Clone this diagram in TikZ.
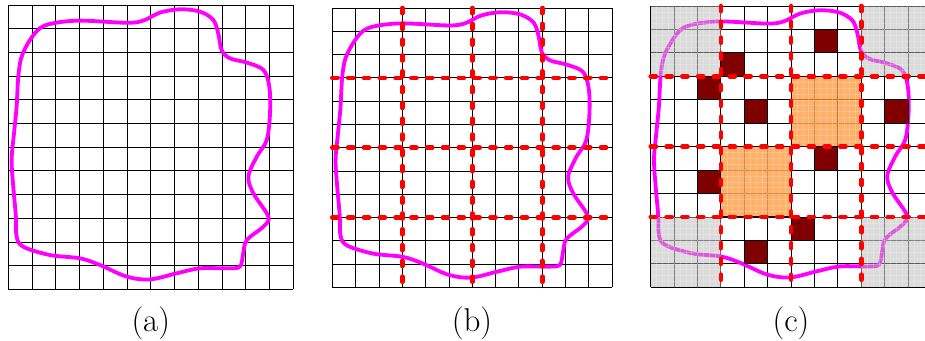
\documentclass[tikz,border=0pt]{standalone}
\definecolor{mag}{RGB}{255,0,255}
\definecolor{dred}{RGB}{128,0,0}
\definecolor{cutred}{RGB}{255,0,0}
\definecolor{orfill}{RGB}{255,150,55}
\definecolor{grfill}{RGB}{185,185,185}
\tikzset{
  gridline/.style={line width=0.45pt, black},
  blob/.style={mag, line width=1.9pt},
  cutline/.style={cutred, line width=2.3pt, line cap=round, dash pattern=on 2.6pt off 5.3pt},
  darkcell/.style={fill=dred, draw=black, line width=0.45pt},
  orangeblock/.style={fill=orfill, fill opacity=0.75},
  orangeedge/.style={draw=black, line width=0.5pt},
  greyblock/.style={fill=grfill, fill opacity=0.5},
  texture/.style={white, line width=0.25pt, opacity=0.22},
  lab/.style={font=\fontsize{16.5}{19}\selectfont, anchor=base, inner sep=0pt},
}
\newcommand{\blobcurve}{%
  \draw[blob] plot[smooth cycle, tension=0.55] coordinates {
    (1.89,0.77) (3.02,0.66) (4.98,0.75) (5.68,0.66) (6.39,0.32) (7.23,0.18)
    (8.07,0.28) (8.63,0.63) (8.84,1.20) (8.98,1.90) (9.33,2.25) (10.04,2.43)
    (10.74,2.74) (10.99,3.45) (11.02,4.57) (10.88,5.70) (10.46,6.40) (10.11,7.24)
    (10.32,7.95) (10.95,8.93) (10.74,9.35) (10.04,9.92) (9.89,10.48) (9.75,11.04)
    (9.19,11.11) (8.07,11.11) (7.09,11.32) (5.96,11.58) (4.98,11.46) (3.86,10.97)
    (3.02,10.69) (1.75,10.55) (0.63,10.20) (0.35,9.77) (0.32,8.93) (0.21,7.67)
    (0.14,6.54) (0.24,5.42) (0.35,4.29) (0.42,3.02) (0.56,2.18) (0.91,1.48)
    (1.33,0.98)};}
\newcommand{\cellgrid}{%
  \foreach \i in {0,...,12} {
    \draw[gridline] (\i,0) -- (\i,12);
    \draw[gridline] (0,\i) -- (12,\i);
  }}
\newcommand{\cutlines}{%
  \foreach \i in {3,6,9} {
    \draw[cutline] (\i,0) -- (\i,12);
    \draw[cutline] (0,\i) -- (12,\i);
  }}
% textured block: #1,#2 = top-left corner (grid units)
\newcommand{\texblock}[2]{%
  \foreach \t in {0.25,0.5,...,2.9} {
    \draw[texture] ({#1+\t},#2) -- ({#1+\t},{#2+3});
    \draw[texture] (#1,{#2+\t}) -- ({#1+3},{#2+\t});
  }}
\begin{document}
\begin{tikzpicture}[x=0.5pt, y=-0.5pt]
  \useasboundingbox (0,0) rectangle (925,341);
  \fill[white] (0,0) rectangle (925,341);
  \clip (0,0) rectangle (925,341);

  % ---------- panel (a)
  \begin{scope}[shift={(8.3,5)}, xscale=23.75, yscale=23.7]
    \cellgrid
    \blobcurve
  \end{scope}
  \node[lab] (la) at (150.8,331.5) {(a)};

  % ---------- panel (b)
  \begin{scope}[shift={(332.3,8)}, xscale=23.33, yscale=23.28]
    \cellgrid
    \blobcurve
    \cutlines
  \end{scope}
  \node[lab] (lb) at (472,331.5) {(b)};

  % ---------- panel (c)
  \begin{scope}[shift={(650.7,6)}, xscale=23.4, yscale=23.44]
    \cellgrid
    \blobcurve
    % grey (discarded) corner blocks
    \foreach \a/\b in {0/0, 9/0, 0/9, 9/9} {
      \fill[greyblock] (\a,\b) rectangle ++(3,3);
      \texblock{\a}{\b}
    }
    % orange (kept) blocks
    \foreach \a/\b in {6/3, 3/6} {
      \fill[orangeblock] (\a,\b) rectangle ++(3,3);
      \texblock{\a}{\b}
      \draw[orangeedge] (\a,\b) rectangle ++(3,3);
    }
    % dark red cells
    \foreach \a/\b in {7/1, 3/2, 2/3, 4/4, 10/4, 7/6, 2/7, 6/9, 4/10} {
      \draw[darkcell] (\a,\b) rectangle ++(1,1);
    }
    \cutlines
  \end{scope}
  \node[lab] (lc) at (791,331.5) {(c)};
\end{tikzpicture}
\end{document}
